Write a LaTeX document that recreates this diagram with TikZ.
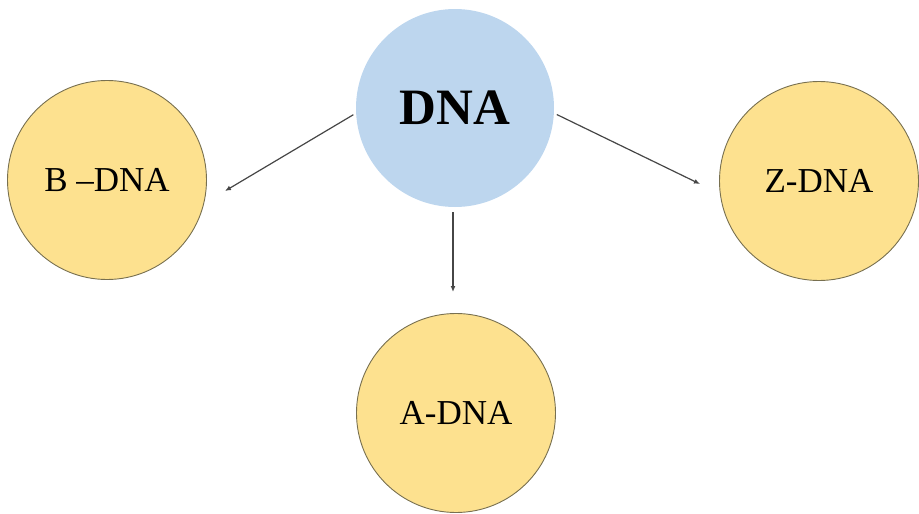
\documentclass[tikz,border=0pt]{standalone}
\usepackage{fontspec}
\setmainfont{Liberation Serif}
\usetikzlibrary{arrows.meta}
\definecolor{goldfill}{RGB}{253,225,143}
\definecolor{goldline}{RGB}{120,112,80}
\definecolor{bluefill}{RGB}{189,214,238}
\definecolor{arrowgray}{RGB}{70,70,70}
\tikzset{
  form/.style={circle, fill=goldfill, draw=goldline, line width=0.9pt, minimum size=199pt, inner sep=0pt, font=\fontsize{35}{40}\selectfont},
  root/.style={circle, fill=bluefill, minimum size=198pt, inner sep=0pt, font=\fontsize{51}{58}\selectfont\bfseries},
  link/.style={draw=arrowgray, line width=1.2pt, -{Latex[length=6pt,width=5pt]}}
}
\begin{document}
\begin{tikzpicture}[x=1pt,y=-1pt]
\useasboundingbox (0,0) rectangle (919,514);
\node[root] (dna) at (455,108) {DNA};
\node[form] (bdna) at (107,180) {B –DNA};
\node[form] (zdna) at (819,181) {Z-DNA};
\node[form] (adna) at (456,413) {A-DNA};
\coordinate (btip) at (225,191);
\coordinate (ztip) at (700,184);
\coordinate (atip) at (453,292);
\draw[link, shorten <=3pt] (dna.183) -- (btip);
\draw[link, shorten <=3pt] (dna.-3) -- (ztip);
\draw[link, shorten <=5pt] (dna.south -| atip) -- (atip);
\end{tikzpicture}
\end{document}
